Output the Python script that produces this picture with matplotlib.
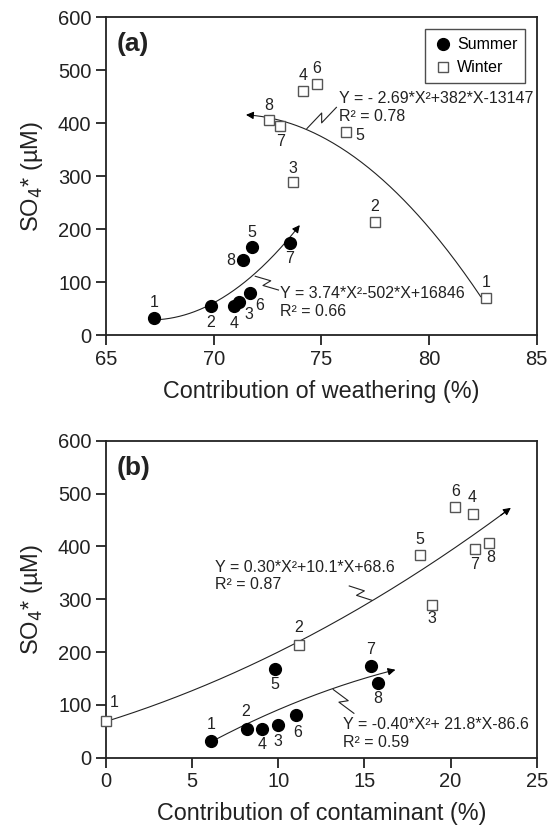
import numpy as np
import matplotlib
matplotlib.use("Agg")
import matplotlib.pyplot as plt

plt.rcParams['font.family'] = ['Liberation Sans', 'DejaVu Sans']

# panel (a): contribution of weathering (%)
wea_summer = [67.25, 69.87, 71.19, 70.94, 71.78, 71.68, 73.54, 71.37]
wea_winter = [82.64, 77.48, 73.67, 74.15, 76.15, 74.78, 73.09, 72.55]
# panel (b): contribution of contaminant (%)
con_summer = [6.08, 8.16, 10.0, 9.04, 9.79, 11.05, 15.36, 15.77]
con_winter = [0.0, 11.18, 18.94, 21.28, 18.22, 20.27, 21.42, 22.25]
# SO4* (uM)
so4_summer = [32, 55, 62, 54, 167, 80, 174, 141]
so4_winter = [70, 214, 289, 461, 384, 475, 395, 407]
site_ids = ['1', '2', '3', '4', '5', '6', '7', '8']

# printed fit equations
eq_a_winter = "Y = - 2.69*X²+382*X-13147"
eq_a_summer = "Y = 3.74*X²-502*X+16846"
eq_b_winter = "Y = 0.30*X²+10.1*X+68.6"
eq_b_summer = "Y = -0.40*X²+ 21.8*X-86.6"
r2_a_winter, r2_a_summer = "R² = 0.78", "R² = 0.66"
r2_b_winter, r2_b_summer = "R² = 0.87", "R² = 0.59"

# label offsets (points) for site numbers
off_a_summer = [(0, 11), (0, -12), (7, -9), (0, -12), (0, 10), (7, -9), (0, -11), (-9, 0)]
off_a_winter = [(0, 11), (0, 11), (0, 10), (0, 11), (10, -3), (0, 11), (0, -11), (0, 10)]
off_b_summer = [(0, 12), (-1, 12), (0, -12), (0, -11), (0, -11), (1, -12), (0, 12), (0, -11)]
off_b_winter = [(6, 13), (0, 12), (0, -10), (0, 12), (0, 11), (0, 11), (0, -11), (1, -11)]

INK = '#222222'
GRAY = '#555555'

fig = plt.figure(figsize=(5.55, 8.26), dpi=100)
ax_a = fig.add_axes([0.191, 0.5944, 0.776, 0.3846])
ax_b = fig.add_axes([0.191, 0.0827, 0.776, 0.3838])


def style_axes(ax, xlim, xticks, xlabel):
    ax.set_xlim(*xlim)
    ax.set_ylim(0, 600)
    ax.set_xticks(xticks)
    ax.set_yticks(range(0, 601, 100))
    for s in ax.spines.values():
        s.set_linewidth(1.3)
        s.set_color(INK)
    ax.tick_params(direction='out', length=7.5, width=1.3, color=INK,
                   labelsize=14.5, labelcolor=INK, top=False, right=False, pad=3)
    ax.set_xlabel(xlabel, fontsize=16.8, color=INK, labelpad=8)
    ax.set_ylabel('SO$_4$* (µM)', fontsize=17, color=INK, labelpad=9)


def fit_curve(ax, x, y, x0, x1):
    coef = np.polyfit(x, y, 2)
    xs = np.linspace(x0, x1, 200)
    ys = np.polyval(coef, xs)
    ax.plot(xs[:-2], ys[:-2], color=INK, lw=0.8, zorder=2)
    ax.annotate('', xy=(xs[-1], ys[-1]), xytext=(xs[-6], ys[-6]),
                arrowprops=dict(arrowstyle='-|>', color='black', lw=0.8,
                                mutation_scale=11, shrinkA=0, shrinkB=0))


def zigzag(ax, a, b, h=4.0):
    # lightning-bolt leader drawn in pixel space
    pa, pb = ax.transData.transform([a, b])
    d = pb - pa
    n = np.array([-d[1], d[0]]) / np.hypot(*d)
    pts = np.array([pa, pa + 0.58 * d + n * h, pa + 0.42 * d - n * h, pb])
    dat = ax.transData.inverted().transform(pts)
    ax.plot(dat[:, 0], dat[:, 1], color=INK, lw=0.8, zorder=2)


def points(ax, xs, ys, offs_s, xw, yw, offs_w):
    ax.plot(xs, ys, 'o', ms=8.5, color='black', zorder=4, label='Summer', clip_on=False)
    ax.plot(xw, yw, 's', ms=7, mfc='white', mec=GRAY, mew=1.0, zorder=4,
            label='Winter', clip_on=False)
    for x, y, t, o in zip(xs, ys, site_ids, offs_s):
        ax.annotate(t, (x, y), xytext=o, textcoords='offset points',
                    ha='center', va='center', fontsize=11.5, color=INK)
    for x, y, t, o in zip(xw, yw, site_ids, offs_w):
        ax.annotate(t, (x, y), xytext=o, textcoords='offset points',
                    ha='center', va='center', fontsize=11.5, color=INK)


# ---- panel (a)
style_axes(ax_a, (65, 85), range(65, 86, 5), 'Contribution of weathering (%)')
fit_curve(ax_a, wea_winter, so4_winter, 82.4, 71.5)
fit_curve(ax_a, wea_summer, so4_summer, 67.5, 74.0)
points(ax_a, wea_summer, so4_summer, off_a_summer, wea_winter, so4_winter, off_a_winter)
ax_a.text(0.025, 0.915, '(a)', transform=ax_a.transAxes, fontsize=19,
          fontweight='bold', va='center', ha='left', color=INK)
ax_a.text(75.8, 446, eq_a_winter, fontsize=11.5, va='center', color=INK)
ax_a.text(75.8, 413, r2_a_winter, fontsize=11.5, va='center', color=INK)
ax_a.text(73.06, 78, eq_a_summer, fontsize=11.5, va='center', color=INK)
ax_a.text(73.06, 45, r2_a_summer, fontsize=11.5, va='center', color=INK)
zigzag(ax_a, (74.33, 390), (75.70, 430))
zigzag(ax_a, (71.93, 111), (73.01, 85))
leg = ax_a.legend(loc='upper right', fontsize=11.5, frameon=True, fancybox=False,
                  edgecolor=INK, borderpad=0.5, handletextpad=0.3,
                  handlelength=1.2, borderaxespad=0,
                  bbox_to_anchor=(0.974, 0.962))
leg.get_frame().set_linewidth(1.0)

# ---- panel (b)
style_axes(ax_b, (0, 25), range(0, 26, 5), 'Contribution of contaminant (%)')
fit_curve(ax_b, con_winter, so4_winter, 0.0, 23.5)
fit_curve(ax_b, con_summer, so4_summer, 6.3, 16.8)
points(ax_b, con_summer, so4_summer, off_b_summer, con_winter, so4_winter, off_b_winter)
ax_b.text(0.025, 0.915, '(b)', transform=ax_b.transAxes, fontsize=19,
          fontweight='bold', va='center', ha='left', color=INK)
ax_b.text(6.33, 360, eq_b_winter, fontsize=11.5, va='center', color=INK)
ax_b.text(6.33, 328, r2_b_winter, fontsize=11.5, va='center', color=INK)
ax_b.text(13.77, 62, eq_b_summer, fontsize=11.5, va='center', color=INK)
ax_b.text(13.77, 29, r2_b_summer, fontsize=11.5, va='center', color=INK)
zigzag(ax_b, (15.42, 298), (14.12, 325))
zigzag(ax_b, (13.19, 129), (14.39, 84))

fig.savefig('out.png', dpi=100)
